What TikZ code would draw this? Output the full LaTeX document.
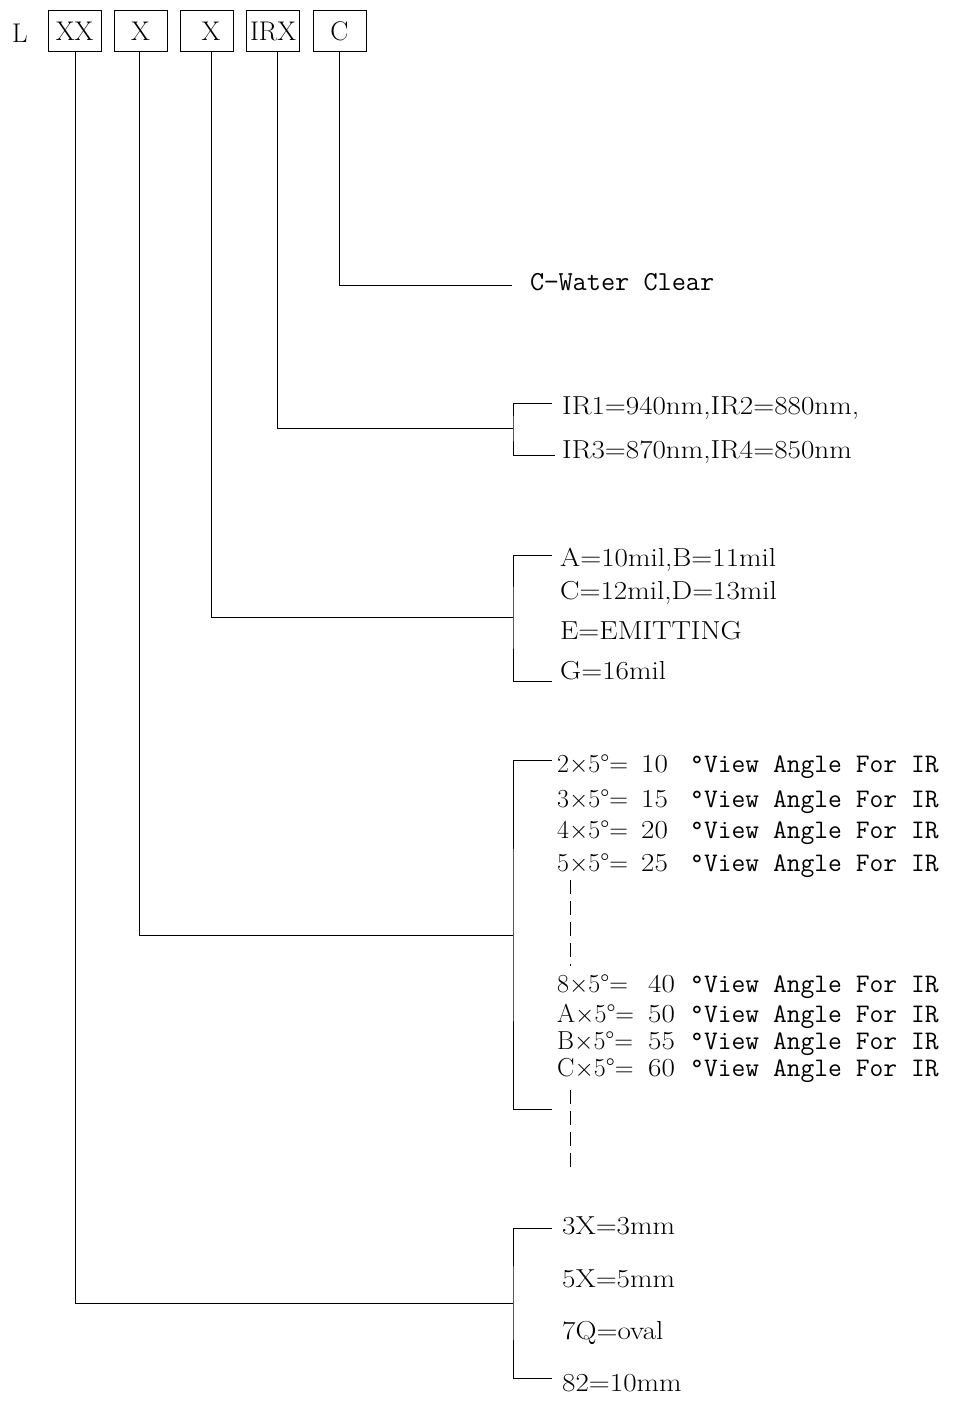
\documentclass[tikz,border=0pt]{standalone}
\usepackage{fontspec}
\usepackage{tikz}
\newfontfamily\widefont{Latin Modern Roman}[FakeStretch=1.12]
\tikzset{
  cell/.style={draw=black, line width=1pt, minimum width=53pt, minimum height=41pt, inner sep=0pt, font=\fontsize{27}{27}\selectfont},
  item/.style={anchor=west, inner sep=0pt, text height=17pt, text depth=0pt, font=\widefont\fontsize{26}{26}\selectfont},
  mono/.style={anchor=west, inner sep=0pt, text height=17pt, text depth=0pt, font=\ttfamily\fontsize{27.5}{27}\selectfont}
}
\tikzstyle{wire} = [black, line width=1pt]
\tikzstyle{gap} = [black, line width=1pt, dash pattern=on 14pt off 7pt]
\newcommand{\viewrow}[3]{\makebox[84pt][l]{\rmfamily #1}\makebox[49pt][l]{\hspace{#2}#3}{\ttfamily\fontsize{26.8}{26}\selectfont °View Angle For IR}}

\begin{document}
\begin{tikzpicture}[x=1pt, y=-1pt]
    \useasboundingbox (0,0) rectangle (954,1404);
    % code boxes
    \node [inner sep=0pt, font=\fontsize{27}{27}\selectfont] (L) at (20,33) {L};
    \node [cell] (size)  at (74.5,31)  {XX};
    \node [cell] (angle) at (140.5,31) {X};
    \node [cell] (chip)  at (206.5,31) {\hspace{9pt}X};
    \node [cell] (wave)  at (273,31)   {IRX};
    \node [cell] (lens)  at (339.5,31) {C};
    % lens colour
    \node [mono] (clear) at (530,282) {C−Water Clear};
    \coordinate (lensjoin) at (512,286);
    \draw [wire] (lens.south) |- (lensjoin);
    % wavelength
    \node [item] (ir1) at (562,406) {IR1=940nm,IR2=880nm,};
    \node [item] (ir2) at (562,450) {IR3=870nm,IR4=850nm};
    \coordinate (wavejoin) at (513,428);
    \draw [wire] ([xshift=4pt]wave.south) |- (wavejoin);
    \draw [wire] ([xshift=-10pt,yshift=3pt]ir1.west) -| (wavejoin) |- ([xshift=-7pt,yshift=-5pt]ir2.west);
    % chip
    \node [item] (chipa) at (560,558) {A=10mil,B=11mil};
    \node [item] (chipc) at (560,591) {C=12mil,D=13mil};
    \node [item] (chipe) at (560,631) {E=EMITTING};
    \node [item] (chipg) at (560,671) {G=16mil};
    \coordinate (chipjoin) at (513,617);
    \draw [wire] ([xshift=4.5pt]chip.south) |- (chipjoin);
    \draw [wire] ([xshift=-8pt,yshift=3pt]chipa.west) -| (chipjoin) |- ([xshift=-8pt,yshift=-10pt]chipg.west);
    % view angle
    \node [item] (va2) at (557,764)  {\viewrow{2$\times$5°=}{0pt}{10}};
    \node [item] (va3) at (557,799)  {\viewrow{3$\times$5°=}{0pt}{15}};
    \node [item] (va4) at (557,830)  {\viewrow{4$\times$5°=}{0pt}{20}};
    \node [item] (va5) at (557,863)  {\viewrow{5$\times$5°=}{0pt}{25}};
    \node [item] (va8) at (557,984)  {\viewrow{8$\times$5°=}{7pt}{40}};
    \node [item] (vaA) at (557,1014) {\viewrow{A$\times$5°=}{7pt}{50}};
    \node [item] (vaB) at (557,1041) {\viewrow{B$\times$5°=}{7pt}{55}};
    \node [item] (vaC) at (557,1068) {\viewrow{C$\times$5°=}{7pt}{60}};
    \coordinate (anglejoin) at (513,935);
    \coordinate (anglebot) at (552,1109);
    \coordinate (dotsA) at (570,880);
    \coordinate (dotsB) at (570,966);
    \coordinate (dotsC) at (570,1090);
    \coordinate (dotsD) at (570,1172);
    \draw [wire] ([xshift=-1.5pt]angle.south) |- (anglejoin);
    \draw [wire] ([xshift=-5pt,yshift=4pt]va2.west) -| (anglejoin) |- (anglebot);
    \draw [gap] (dotsA) -- (dotsB);
    \draw [gap] (dotsC) -- (dotsD);
    % size
    \node [item] (s3) at (562,1226) {3X=3mm};
    \node [item] (s5) at (562,1279) {5X=5mm};
    \node [item] (s7) at (562,1331) {7Q=oval};
    \node [item] (s8) at (562,1383) {82=10mm};
    \coordinate (sizejoin) at (513,1303);
    \draw [wire] ([xshift=0.5pt]size.south) |- (sizejoin);
    \draw [wire] ([xshift=-10pt,yshift=-2pt]s3.west) -| (sizejoin) |- ([xshift=-10pt,yshift=5pt]s8.west);
\end{tikzpicture}
\end{document}
